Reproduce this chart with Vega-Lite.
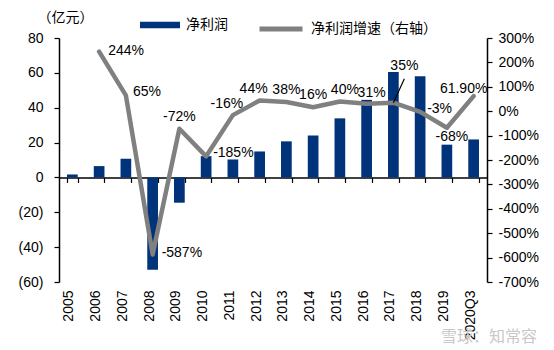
{
  "$schema": "https://vega.github.io/schema/vega-lite/v6.json",
  "width": 428,
  "height": 244,
  "autosize": "none",
  "padding": {"left": 59, "top": 38, "right": 67, "bottom": 68},
  "background": "white",
  "title": {"text": "雪球：知常容", "orient": "bottom", "anchor": "end", "frame": "group", "offset": -11, "dx": 50, "color": "#c8c8c8", "fontSize": 16, "font": "Noto Sans CJK SC", "fontWeight": "normal"},
  "config": {"view": {"stroke": null}, "axis": {"labelOverlap": false}},
  "datasets": {
    "main": [
      {"cat": "2005", "profit": 1.7, "growth": null, "label": null},
      {"cat": "2006", "profit": 6.5, "growth": 244, "label": "244%"},
      {"cat": "2007", "profit": 10.7, "growth": 65, "label": "65%"},
      {"cat": "2008", "profit": -52.9, "growth": -587, "label": "-587%"},
      {"cat": "2009", "profit": -14.5, "growth": -72, "label": "-72%"},
      {"cat": "2010", "profit": 12.2, "growth": -185, "label": "-185%"},
      {"cat": "2011", "profit": 10.3, "growth": -16, "label": "-16%"},
      {"cat": "2012", "profit": 14.9, "growth": 44, "label": "44%"},
      {"cat": "2013", "profit": 20.7, "growth": 38, "label": "38%"},
      {"cat": "2014", "profit": 24.1, "growth": 16, "label": "16%"},
      {"cat": "2015", "profit": 33.9, "growth": 40, "label": "40%"},
      {"cat": "2016", "profit": 44.5, "growth": 31, "label": "31%"},
      {"cat": "2017", "profit": 60.5, "growth": 35, "label": "35%"},
      {"cat": "2018", "profit": 58.0, "growth": -3, "label": "-3%"},
      {"cat": "2019", "profit": 18.8, "growth": -68, "label": "-68%"},
      {"cat": "2020Q3", "profit": 21.8, "growth": 61.9, "label": "61.90%"}
    ]
  },
  "data": {"name": "main"},
  "layer": [
    {
      "mark": {"type": "bar"},
      "encoding": {
        "x": {"field": "cat", "type": "nominal", "sort": null, "title": null,
          "scale": {"paddingInner": 0.6, "paddingOuter": 0.3},
          "axis": {"orient": "bottom", "offset": -104.57, "labels": false, "tickBand": "extent", "domainColor": "black", "domainWidth": 1.5, "tickColor": "black", "tickWidth": 1.2, "tickSize": 5, "grid": false}},
        "y": {"field": "profit", "type": "quantitative", "title": "（亿元）",
          "scale": {"domain": [-60, 80], "nice": false, "zero": false},
          "axis": {"orient": "left", "values": [-60, -40, -20, 0, 20, 40, 60, 80], "labelOverlap": false, "labelSeparation": -40, "labelExpr": "datum.value < 0 ? '(' + abs(datum.value) + ')' : '' + datum.value", "domainColor": "black", "domainWidth": 1.5, "tickColor": "black", "tickWidth": 1.2, "tickSize": 5, "labelFontSize": 14, "labelFont": "Liberation Sans", "labelColor": "black", "labelPadding": 11, "grid": false, "titleAngle": 0, "titleAlign": "left", "titleBaseline": "middle", "titleX": -22, "titleY": -21, "titleFont": "Noto Sans CJK SC", "titleFontSize": 14, "titleFontWeight": "normal", "titleColor": "black"}},
        "fill": {"datum": "净利润", "type": "nominal", "scale": {"range": ["#00337a"]},
          "legend": {"orient": "none", "legendX": 81, "legendY": -33, "title": null, "symbolType": "M-1,-0.16H1V0.16H-1Z", "symbolSize": 1600, "symbolStrokeWidth": 0, "labelFont": "Noto Sans CJK SC", "labelFontSize": 14, "labelColor": "black", "labelOffset": 6}}
      }
    },
    {
      "encoding": {
        "x": {"field": "cat", "type": "nominal", "sort": null, "title": null,
          "axis": {"orient": "bottom", "domain": false, "ticks": false, "labelAngle": 270, "labelAlign": "right", "labelBaseline": "middle", "labelPadding": 8, "labelOffset": -3, "labelFontSize": 14, "labelFont": "Liberation Sans", "labelColor": "black", "labelOverlap": false, "grid": false}},
        "y": {"field": "growth", "type": "quantitative", "title": null,
          "scale": {"domain": [-700, 300], "nice": false, "zero": false},
          "axis": {"orient": "right", "values": [-700, -600, -500, -400, -300, -200, -100, 0, 100, 200, 300], "labelOverlap": false, "labelSeparation": -40, "labelExpr": "datum.value + '%'", "domainColor": "black", "domainWidth": 1.5, "tickColor": "black", "tickWidth": 1.2, "tickSize": 5, "labelFontSize": 14, "labelFont": "Liberation Sans", "labelColor": "black", "labelPadding": 6, "grid": false}}
      },
      "layer": [
        {
          "transform": [{"filter": "datum.growth != null"}],
          "mark": {"type": "line", "strokeWidth": 4.5, "strokeJoin": "round", "strokeCap": "round"},
          "encoding": {
            "stroke": {"datum": "净利润增速（右轴）", "type": "nominal", "scale": {"range": ["#808080"]},
              "legend": {"orient": "none", "legendX": 198, "legendY": -33, "title": null, "symbolType": "stroke", "symbolSize": 1849, "symbolStrokeWidth": 5, "labelFont": "Noto Sans CJK SC", "labelFontSize": 14, "labelColor": "black", "labelOffset": 6}}
          }
        },
        {
          "transform": [{"filter": {"field": "cat", "oneOf": ["2017"]}}],
          "mark": {"type": "rule", "color": "black", "strokeWidth": 1.2, "x2Offset": 11, "yOffset": 0, "y2Offset": -24},
          "encoding": {
            "x2": {"field": "cat"},
            "y2": {"field": "growth"}
          }
        },
        {
          "transform": [{"filter": {"field": "cat", "oneOf": ["2006", "2008"]}}],
          "mark": {"type": "text", "align": "left", "baseline": "middle", "dx": 9, "dy": -1, "fontSize": 14, "font": "Liberation Sans", "color": "black"},
          "encoding": {"text": {"field": "label"}}
        },
        {
          "transform": [{"filter": {"field": "cat", "oneOf": ["2007", "2010", "2018"]}}],
          "mark": {"type": "text", "align": "left", "baseline": "middle", "dx": 7, "dy": -3, "fontSize": 14, "font": "Liberation Sans", "color": "black"},
          "encoding": {"text": {"field": "label"}}
        },
        {
          "transform": [{"filter": {"field": "cat", "oneOf": ["2011", "2012"]}}],
          "mark": {"type": "text", "align": "center", "baseline": "middle", "dx": -6, "dy": -11, "fontSize": 14, "font": "Liberation Sans", "color": "black"},
          "encoding": {"text": {"field": "label"}}
        },
        {
          "transform": [{"filter": {"field": "cat", "oneOf": ["2009", "2013", "2014"]}}],
          "mark": {"type": "text", "align": "center", "baseline": "middle", "dx": 0, "dy": -12, "fontSize": 14, "font": "Liberation Sans", "color": "black"},
          "encoding": {"text": {"field": "label"}}
        },
        {
          "transform": [{"filter": {"field": "cat", "oneOf": ["2015", "2016"]}}],
          "mark": {"type": "text", "align": "center", "baseline": "middle", "dx": 5, "dy": -11, "fontSize": 14, "font": "Liberation Sans", "color": "black"},
          "encoding": {"text": {"field": "label"}}
        },
        {
          "transform": [{"filter": {"field": "cat", "oneOf": ["2017"]}}],
          "mark": {"type": "text", "align": "center", "baseline": "middle", "dx": 11, "dy": -37, "fontSize": 14, "font": "Liberation Sans", "color": "black"},
          "encoding": {"text": {"field": "label"}}
        },
        {
          "transform": [{"filter": {"field": "cat", "oneOf": ["2019"]}}],
          "mark": {"type": "text", "align": "center", "baseline": "middle", "dx": 5, "dy": 9, "fontSize": 14, "font": "Liberation Sans", "color": "black"},
          "encoding": {"text": {"field": "label"}}
        },
        {
          "transform": [{"filter": {"field": "cat", "oneOf": ["2020Q3"]}}],
          "mark": {"type": "text", "align": "center", "baseline": "middle", "dx": -10, "dy": -7, "fontSize": 14, "font": "Liberation Sans", "color": "black"},
          "encoding": {"text": {"field": "label"}}
        }
      ]
    }
  ],
  "resolve": {"scale": {"y": "independent"}, "axis": {"x": "independent"}}
}
